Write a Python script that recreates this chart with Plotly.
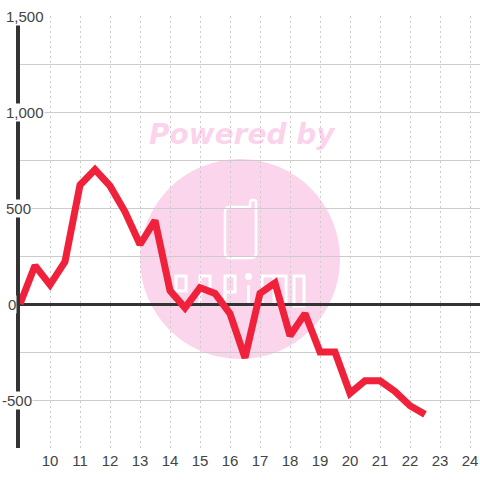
import plotly.graph_objects as go

hours = [9, 9.5, 10, 10.5, 11, 11.5, 12, 12.5, 13, 13.5, 14, 14.5, 15, 15.5, 16, 16.5,
         17, 17.5, 18, 18.5, 19, 19.5, 20, 20.5, 21, 21.5, 22, 22.5]
values = [0, 200, 100, 220, 620, 700, 615, 480, 310, 435, 70, -20, 85, 55, -50, -280,
          55, 110, -165, -50, -250, -250, -465, -400, -400, -455, -530, -575]
x_ticks = list(range(10, 25))
y_grid = [-750, -500, -250, 0, 250, 500, 750, 1000, 1250, 1500]
y_labels = {1500: "1,500", 1000: "1,000", 500: "500", 0: "0", -500: "-500"}

W, H, L, T, B = 480, 480, 20, 16, 32
RED, DARK, GRID, PINK = "#f0213a", "#333333", "#cccccc", "#fbd5ec"
FONT = "Liberation Sans"

def px(x): return (x - L) / (W - L)
def py(y): return 1 - (y - T) / (H - T - B)

fig = go.Figure(go.Scatter(x=hours, y=values, mode="lines", cliponaxis=False,
                           line=dict(color=RED, width=7), hoverinfo="skip"))

shapes = [dict(type="circle", xref="paper", yref="paper", layer="below",
               x0=px(140), x1=px(340), y0=py(359), y1=py(159), fillcolor=PINK, line_width=0)]

def pth(d):
    out = []
    for tok in d.split():
        if "," in tok:
            a, b = tok.split(",")
            out.append(f"{px(float(a))},{py(float(b))}")
        else:
            out.append(tok)
    return " ".join(out)

phone = ("M 230,207 L 250,207 L 250,202 Q 250,200 253,200 Q 256,200 256,202 L 256,253 "
         "Q 256,258 251,258 L 230,258 Q 225,258 225,253 L 225,212 Q 225,207 230,207 Z")
letters = [
    "M 176,306 L 176,276 L 186,276 L 186,291 L 176,291",
    "M 200,306 L 200,276 L 210,276 L 210,292 L 200,292",
    "M 225,306 L 225,276 L 235,276 L 235,292 L 225,292",
    "M 248.5,285 L 248.5,306",
    "M 262,306 L 262,276 L 286,276 L 286,306 M 274,276 L 274,306",
    "M 294,276 L 304,276 L 304,306 L 294,306 Z",
]
shapes.append(dict(type="path", xref="paper", yref="paper", layer="below",
                   path=pth(phone), line=dict(color="white", width=2.5)))
for d in letters:
    shapes.append(dict(type="path", xref="paper", yref="paper", layer="below",
                       path=pth(d), line=dict(color="white", width=3)))
shapes.append(dict(type="circle", xref="paper", yref="paper", layer="below",
                   x0=px(245), x1=px(252), y0=py(280), y1=py(273),
                   fillcolor="white", line_width=0))

label_centers = {1500: 24.5, 1000: 24.5, 500: 18, 0: 12, -500: 16.5}
annotations = [dict(x=0, xref="paper", y=v, yref="y", text=t, showarrow=False,
                    xanchor="center", xshift=label_centers[v] - L, borderpad=0,
                    bgcolor="white", font=dict(family=FONT, size=15, color="#444444"))
               for v, t in y_labels.items()]
annotations.append(dict(x=px(242), xref="paper", y=py(134), yref="paper", text="Powered by",
                        showarrow=False, xanchor="center", yanchor="middle",
                        font=dict(family="DejaVu Sans", size=28, weight="bold", style="italic",
                                  color="rgba(247,150,210,0.42)")))

fig.update_layout(
    width=W, height=H, autosize=False, showlegend=False,
    margin=dict(l=L, r=0, t=T, b=B, pad=0),
    paper_bgcolor="white", plot_bgcolor="rgba(0,0,0,0)",
    shapes=shapes, annotations=annotations,
    xaxis=dict(range=[9, 9 + (W - L) / 30], tickmode="array", tickvals=x_ticks,
               ticktext=[str(v) for v in x_ticks], showline=False, zeroline=False,
               showgrid=True, gridcolor=GRID, gridwidth=1, griddash="2px,3px",
               ticks="", ticklabelstandoff=2, tickfont=dict(family=FONT, size=15, color="#444444")),
    yaxis=dict(range=[-750, 1500], tickmode="array", tickvals=y_grid, showticklabels=False,
               showgrid=True, gridcolor=GRID, gridwidth=1, ticks="",
               zeroline=True, zerolinecolor=DARK, zerolinewidth=3,
               showline=True, linecolor=DARK, linewidth=3.5),
)
fig.write_html("out.html", config=dict(displayModeBar=False),
               post_script="document.body.style.margin='0';document.body.style.overflow='hidden';")
